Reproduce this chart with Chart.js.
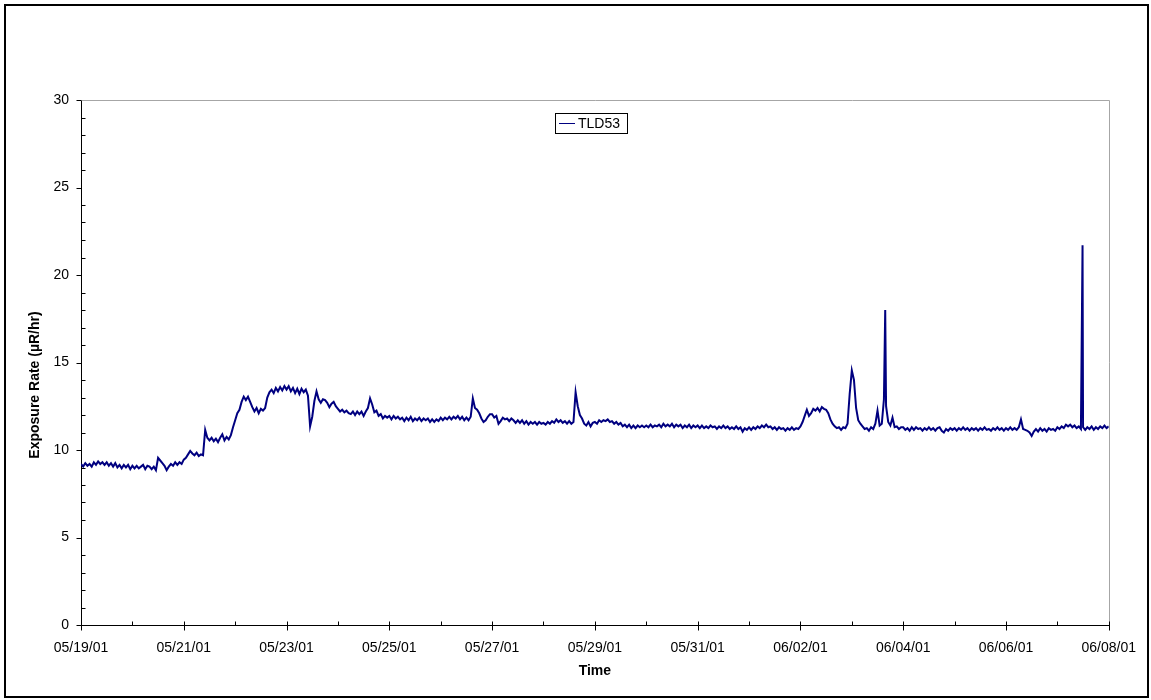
<!DOCTYPE html>
<html>
<head>
<meta charset="utf-8">
<title>TLD53</title>
<script src="https://cdn.jsdelivr.net/npm/chart.js@4.4.1/dist/chart.umd.min.js"></script>
<style>
  body { margin: 0; background: #fff; }
  #frame { position: absolute; left: 4px; top: 4px; width: 1141px; height: 690px; border: 2px solid #000; }
  #tldChart { position: absolute; left: 0; top: 0; }
</style>
</head>
<body>
<div id="frame"></div>
<canvas id="tldChart" width="1151" height="700"></canvas>
<script>
// Tick labels on the time axis, one for every second day starting 05/19/01
const dateLabels = [
  "05/19/01", "05/21/01", "05/23/01", "05/25/01", "05/27/01", "05/29/01",
  "05/31/01", "06/02/01", "06/04/01", "06/06/01", "06/08/01"
];

// Hourly readings (µR/hr), one row per day
const hourlyReadings = [
  9.2, 9.05, 9.25, 9.1, 9.2, 9.05, 9.3, 9.15, 9.35, 9.2, 9.3, 9.15, 9.3, 9.1, 9.25, 9.05, 9.25, 9.0, 9.15, 8.95, 9.15, 9.0, 9.15, 8.9,
  9.1, 8.95, 9.1, 8.95, 9.05, 9.15, 8.9, 9.1, 9.05, 8.9, 9.05, 8.85, 9.55, 9.4, 9.25, 9.1, 8.85, 9.05, 9.2, 9.1, 9.3, 9.15, 9.3, 9.2,
  9.45, 9.55, 9.75, 9.95, 9.8, 9.7, 9.85, 9.65, 9.75, 9.7, 11.15, 10.7, 10.55, 10.7, 10.5, 10.65, 10.45, 10.7, 10.9, 10.55, 10.75, 10.6, 10.85, 11.3,
  11.7, 12.1, 12.3, 12.75, 13.05, 12.85, 13.05, 12.75, 12.45, 12.2, 12.4, 12.1, 12.35, 12.25, 12.4, 13.0, 13.3, 13.45, 13.25, 13.55, 13.35, 13.6, 13.4, 13.65,
  13.45, 13.65, 13.35, 13.55, 13.25, 13.5, 13.2, 13.5, 13.3, 13.45, 13.1, 11.35, 11.9, 12.8, 13.35, 12.9, 12.7, 12.9, 12.85, 12.7, 12.45, 12.65, 12.75, 12.5,
  12.35, 12.2, 12.3, 12.15, 12.25, 12.1, 12.05, 12.2, 12.0, 12.2, 12.05, 12.2, 11.95, 12.2, 12.4, 12.95, 12.6, 12.15, 12.25, 11.95, 12.05, 11.8, 11.95, 11.85,
  11.95, 11.75, 11.95, 11.8, 11.9, 11.75, 11.85, 11.65, 11.85, 11.7, 11.9, 11.65, 11.8, 11.7, 11.85, 11.65, 11.8, 11.7, 11.8, 11.6, 11.75, 11.6, 11.75, 11.65,
  11.85, 11.7, 11.85, 11.75, 11.9, 11.75, 11.9, 11.8, 11.95, 11.75, 11.9, 11.7, 11.85, 11.7, 11.9, 12.95, 12.4, 12.3, 12.1, 11.8, 11.6, 11.7, 11.9, 12.05,
  12.05, 11.85, 11.95, 11.5, 11.65, 11.85, 11.75, 11.8, 11.65, 11.8, 11.7, 11.55, 11.7, 11.55, 11.7, 11.5, 11.65, 11.45, 11.6, 11.5, 11.6, 11.45, 11.6, 11.5,
  11.55, 11.45, 11.6, 11.5, 11.65, 11.55, 11.75, 11.6, 11.7, 11.55, 11.65, 11.5, 11.65, 11.5, 11.6, 13.3, 12.5, 12.0, 11.8, 11.5, 11.4, 11.6, 11.35, 11.55,
  11.6, 11.5, 11.7, 11.6, 11.7, 11.65, 11.75, 11.6, 11.65, 11.5, 11.6, 11.45, 11.55, 11.35, 11.45, 11.3, 11.45, 11.25, 11.4, 11.25, 11.4, 11.3, 11.4, 11.3,
  11.4, 11.3, 11.45, 11.3, 11.4, 11.35, 11.45, 11.3, 11.5, 11.35, 11.45, 11.35, 11.5, 11.3, 11.45, 11.35, 11.45, 11.25, 11.4, 11.3, 11.45, 11.25, 11.4, 11.3,
  11.4, 11.25, 11.4, 11.25, 11.35, 11.25, 11.4, 11.3, 11.35, 11.2, 11.35, 11.25, 11.4, 11.25, 11.35, 11.2, 11.3, 11.2, 11.35, 11.2, 11.3, 11.05, 11.25, 11.15,
  11.3, 11.15, 11.3, 11.2, 11.35, 11.25, 11.4, 11.3, 11.45, 11.3, 11.35, 11.2, 11.3, 11.15, 11.3, 11.2, 11.25, 11.1, 11.25, 11.15, 11.3, 11.15, 11.25, 11.2,
  11.35, 11.6, 11.95, 12.3, 11.95, 12.1, 12.35, 12.25, 12.4, 12.2, 12.45, 12.35, 12.3, 12.1, 11.75, 11.5, 11.35, 11.25, 11.3, 11.15, 11.3, 11.25, 11.5, 13.2,
  14.55, 14.0, 12.4, 11.7, 11.5, 11.35, 11.2, 11.25, 11.1, 11.3, 11.2, 11.5, 12.25, 11.4, 11.5, 12.9, 12.5, 11.6, 11.4, 11.85, 11.3, 11.35, 11.2, 11.3,
  11.3, 11.15, 11.25, 11.1, 11.3, 11.15, 11.3, 11.2, 11.25, 11.1, 11.25, 11.15, 11.3, 11.15, 11.25, 11.1, 11.25, 11.3, 11.1, 11.0, 11.2, 11.1, 11.25, 11.15,
  11.25, 11.1, 11.25, 11.15, 11.3, 11.15, 11.25, 11.1, 11.25, 11.15, 11.25, 11.1, 11.25, 11.15, 11.3, 11.15, 11.2, 11.1, 11.25, 11.15, 11.3, 11.15, 11.25, 11.1,
  11.25, 11.15, 11.3, 11.15, 11.25, 11.15, 11.3, 11.75, 11.2, 11.15, 11.1, 11.0, 10.8, 11.05, 11.2, 11.05, 11.25, 11.1, 11.2, 11.05, 11.25, 11.15, 11.2, 11.1,
  11.3, 11.2, 11.35, 11.25, 11.45, 11.35, 11.45, 11.3, 11.4, 11.25, 11.35, 11.2, 11.3, 11.15, 11.3, 11.2, 11.35, 11.15, 11.3, 11.2, 11.35, 11.25, 11.4, 11.25,
  11.35
];

// Short spikes between two hourly readings (days since 05/19/01 and value)
const spikeDays = [15.65, 19.49];
const spikeValues = [18.0, 21.7];

const seriesLabel = "TLD53";
const yTitle = "Exposure Rate (µR/hr)";
const lineColor = "#000080";
const fontFamily = "'Liberation Sans', Arial, sans-serif";

// Combine hourly readings and spikes into one sorted list of points
function buildPoints() {
  const points = hourlyReadings.map((v, i) => ({ x: i / 24, y: v }));
  spikeDays.forEach((d, i) => points.push({ x: d, y: spikeValues[i] }));
  points.sort((a, b) => a.x - b.x);
  return points;
}

// Excel-style frame: grey top/right edge, small tick marks, y title, boxed legend
const excelFrame = {
  id: "excelFrame",
  beforeDatasetsDraw(chart) {
    const { ctx, chartArea: a } = chart;
    ctx.save();
    ctx.strokeStyle = "#a6a6a6";
    ctx.lineWidth = 1;
    ctx.beginPath();
    ctx.moveTo(Math.round(a.left), Math.round(a.top) + 0.5);
    ctx.lineTo(Math.round(a.right) + 0.5, Math.round(a.top) + 0.5);
    ctx.lineTo(Math.round(a.right) + 0.5, Math.round(a.bottom));
    ctx.stroke();
    ctx.restore();
  },
  afterDraw(chart) {
    const { ctx, chartArea: a, scales } = chart;
    const xs = scales.x, ys = scales.y;
    const bottom = Math.round(a.bottom) + 0.5;
    const left = Math.round(a.left) + 0.5;
    ctx.save();
    ctx.strokeStyle = "#000";
    ctx.lineWidth = 1;
    ctx.beginPath();
    for (let d = 0; d <= 20; d++) {
      const px = Math.round(xs.getPixelForValue(d)) + 0.5;
      ctx.moveTo(px, bottom - 4);
      ctx.lineTo(px, d % 2 === 0 ? bottom + 5 : bottom);
    }
    for (let v = 0; v <= 30; v++) {
      const py = Math.round(ys.getPixelForValue(v)) + 0.5;
      if (v % 5 === 0) {
        ctx.moveTo(left - 5, py);
        ctx.lineTo(left, py);
      } else {
        ctx.moveTo(left, py);
        ctx.lineTo(left + 4, py);
      }
    }
    ctx.stroke();

    // y axis title, sits a little below the middle of the axis like the original
    ctx.fillStyle = "#000";
    ctx.font = "bold 14px " + fontFamily;
    ctx.textAlign = "center";
    ctx.textBaseline = "middle";
    ctx.translate(35, 385);
    ctx.rotate(-Math.PI / 2);
    ctx.fillText(yTitle, 0, 0);
    ctx.setTransform(1, 0, 0, 1, 0, 0);

    // legend box
    const ds = chart.data.datasets[0];
    ctx.strokeStyle = "#000";
    ctx.strokeRect(555.5, 113.5, 72, 20);
    ctx.strokeStyle = ds.borderColor;
    ctx.lineWidth = 1;
    ctx.beginPath();
    ctx.moveTo(559, 123.5);
    ctx.lineTo(575, 123.5);
    ctx.stroke();
    ctx.font = "14px " + fontFamily;
    ctx.textAlign = "left";
    ctx.fillText(ds.label, 578, 124);
    ctx.restore();
  }
};

function renderChart() {
  const ctx = document.getElementById("tldChart").getContext("2d");
  new Chart(ctx, {
    type: "line",
    data: {
      datasets: [{
        label: seriesLabel,
        data: buildPoints(),
        borderColor: lineColor,
        borderWidth: 2,
        pointRadius: 0,
        tension: 0,
        fill: false
      }]
    },
    options: {
      responsive: false,
      animation: false,
      devicePixelRatio: 1,
      layout: { padding: { left: 0, top: 100, right: 41, bottom: 0 } },
      plugins: { legend: { display: false }, tooltip: { enabled: false } },
      scales: {
        x: {
          type: "linear",
          min: 0,
          max: 20,
          afterFit: s => { s.height = 75; },
          grid: { drawOnChartArea: false, drawTicks: false },
          border: { color: "#000", width: 1 },
          ticks: {
            stepSize: 1,
            autoSkip: false,
            maxRotation: 0,
            padding: 15,
            color: "#000",
            font: { family: fontFamily, size: 14 },
            callback: v => (v % 2 === 0 ? dateLabels[v / 2] : "")
          },
          title: {
            display: true,
            text: "Time",
            color: "#000",
            font: { family: fontFamily, size: 14, weight: "bold" },
            padding: { top: 0, bottom: 20 }
          }
        },
        y: {
          min: 0,
          max: 30,
          afterFit: s => { s.width = 81; },
          grid: { drawOnChartArea: false, drawTicks: false },
          border: { color: "#000", width: 1 },
          ticks: {
            stepSize: 5,
            padding: 12,
            color: "#000",
            font: { family: fontFamily, size: 14 }
          }
        }
      }
    },
    plugins: [excelFrame]
  });
}

document.addEventListener("DOMContentLoaded", renderChart);
</script>
</body>
</html>
